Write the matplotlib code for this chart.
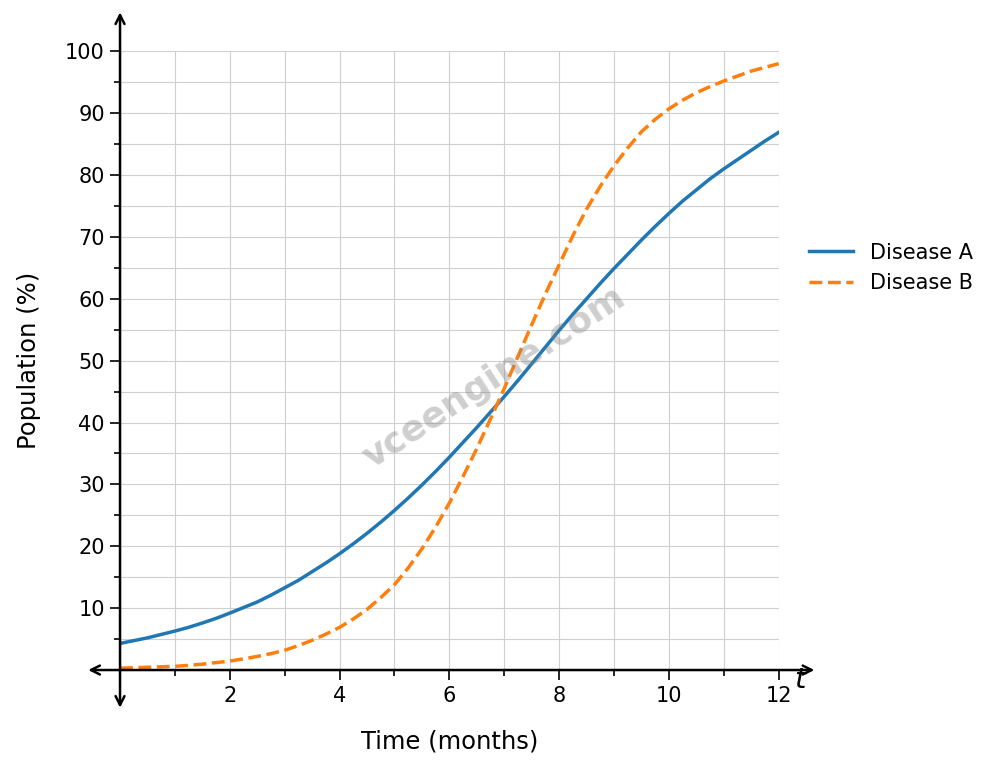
import matplotlib
matplotlib.use('Agg')
import matplotlib.pyplot as plt
from matplotlib.ticker import MultipleLocator

# readings taken every quarter month
months = [0, 0.25, 0.5, 0.75, 1, 1.25, 1.5, 1.75, 2, 2.25, 2.5, 2.75, 3,
          3.25, 3.5, 3.75, 4, 4.25, 4.5, 4.75, 5, 5.25, 5.5, 5.75, 6,
          6.25, 6.5, 6.75, 7, 7.25, 7.5, 7.75, 8, 8.25, 8.5, 8.75, 9,
          9.25, 9.5, 9.75, 10, 10.25, 10.5, 10.75, 11, 11.25, 11.5, 11.75, 12]
disease_a = [4.3, 4.75, 5.2, 5.75, 6.3, 6.9, 7.6, 8.35, 9.2, 10.1, 11.0, 12.1, 13.3,
             14.5, 15.9, 17.3, 18.8, 20.4, 22.1, 23.9, 25.8, 27.8, 29.9, 32.1, 34.4,
             36.8, 39.2, 41.7, 44.2, 46.8, 49.5, 52.2, 54.9, 57.5, 60.0, 62.5, 64.9,
             67.2, 69.5, 71.7, 73.8, 75.8, 77.6, 79.4, 81.0, 82.5, 84.0, 85.5, 86.9]
disease_b = [0.3, 0.37, 0.45, 0.52, 0.6, 0.75, 0.95, 1.2, 1.45, 1.8, 2.2, 2.65, 3.2,
             3.95, 4.8, 5.8, 6.9, 8.25, 9.8, 11.7, 13.8, 16.5, 19.6, 23.1, 27.0,
             31.3, 35.8, 40.6, 45.5, 50.7, 55.8, 60.8, 65.5, 70.2, 74.5, 78.2, 81.5,
             84.4, 87.0, 89.0, 90.7, 92.1, 93.3, 94.3, 95.2, 96.0, 96.8, 97.4, 98.0]

x_ticks = [2, 4, 6, 8, 10, 12]
y_ticks = [10, 20, 30, 40, 50, 60, 70, 80, 90, 100]

fig = plt.figure(figsize=(9.92, 7.62), dpi=100)
ax = fig.add_axes([0.121, 0.1207, 0.664, 0.812])

ax.plot(months, disease_a, color='#1f77b4', lw=2.5, label='Disease A')
ax.plot(months, disease_b, color='#ff7f0e', lw=2.5, ls='--', label='Disease B')

ax.set_xlim(0, 12)
ax.set_ylim(0, 100)
ax.set_xticks(x_ticks)
ax.set_yticks(y_ticks)
ax.xaxis.set_minor_locator(MultipleLocator(1))
ax.yaxis.set_minor_locator(MultipleLocator(5))
ax.grid(True, which='both', color='#cfcfcf', lw=0.8)
ax.set_axisbelow(True)

for s in ax.spines.values():
    s.set_visible(False)

ax.tick_params(axis='both', which='major', length=7.5, width=1.2, labelsize=15)
ax.tick_params(axis='both', which='minor', length=4.5, width=1.2)
ax.tick_params(axis='x', pad=4)

# axes with arrows at both ends
ax.annotate('', xy=(12.65, 0), xytext=(-0.58, 0), annotation_clip=False,
            arrowprops=dict(arrowstyle='<->', lw=1.8, color='black',
                            shrinkA=0, shrinkB=0, mutation_scale=16))
ax.annotate('', xy=(0, 106.3), xytext=(0, -6.1), annotation_clip=False,
            arrowprops=dict(arrowstyle='<->', lw=1.8, color='black',
                            shrinkA=0, shrinkB=0, mutation_scale=16))
ax.text(12.4, -1.6, '$t$', fontsize=21, ha='center', va='center', clip_on=False)

ax.set_xlabel('Time (months)', fontsize=17.5, labelpad=17)
ax.set_ylabel('Population (%)', fontsize=17.5, labelpad=17)

ax.legend(loc='center left', bbox_to_anchor=(1.017, 0.65), frameon=False,
          fontsize=15, handlelength=2.15)

ax.text(0.568, 0.472, 'vceengine.com', transform=ax.transAxes, fontsize=26,
        fontweight='bold', color='gray', alpha=0.38, rotation=33,
        ha='center', va='center', zorder=10)

fig.savefig('out.png', dpi=100)
